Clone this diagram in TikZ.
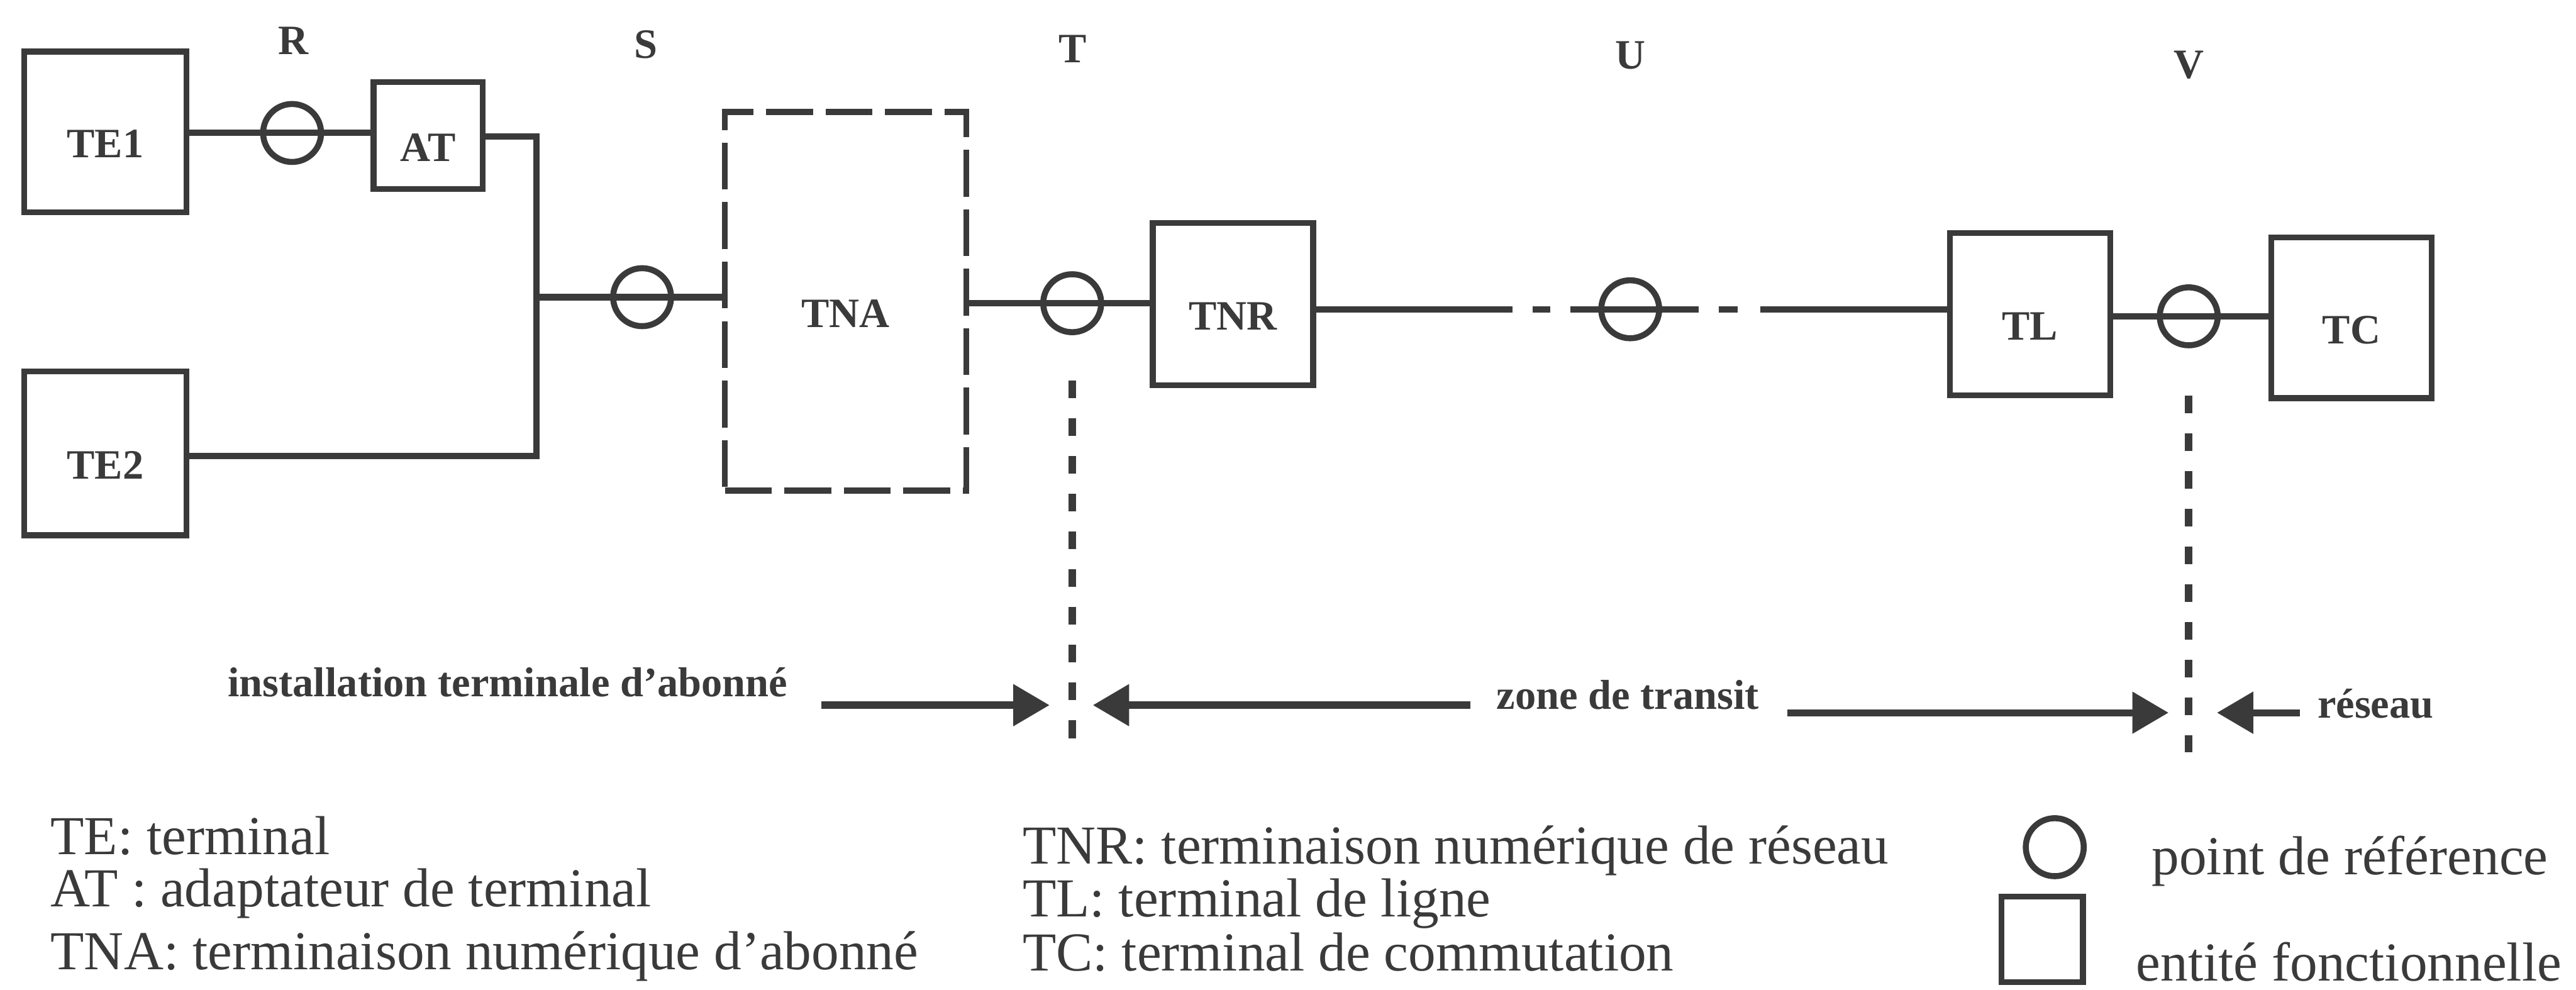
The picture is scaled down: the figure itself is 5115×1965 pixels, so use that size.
\documentclass[tikz,border=0pt]{standalone}
\usepackage{fontspec}
\setmainfont{Liberation Serif}
\usetikzlibrary{arrows.meta,calc}
\definecolor{ink}{RGB}{58,58,58}
\begin{document}
\begin{tikzpicture}[x=0.01cm,y=-0.01cm,
  every node/.style={text=ink},
  lblfont/.style={font=\fontsize{23.6}{26}\selectfont\bfseries},
  legfont/.style={font=\fontsize{31}{33}\selectfont},
  box/.style={draw=ink, line width=3.4pt, inner sep=0pt},
  boxlbl/.style={label={[lblfont, text=ink, yshift=-0.24cm]center:#1}},
  dbox/.style={box, dash pattern=on 0.93cm off 0.25cm},
  refpt/.style={draw=ink, circle, line width=3.4pt, minimum size=1.15cm, inner sep=0pt},
  wire/.style={draw=ink, line width=3.6pt},
  vdots/.style={draw=ink, line width=4.2pt, dash pattern=on 0.35cm off 0.4cm},
  arr/.style={draw=ink, line width=4pt, -{Triangle[length=0.72cm,width=0.8cm]}},
  letter/.style={lblfont, anchor=base, inner sep=0pt},
  zone/.style={lblfont, anchor=base, inner sep=0pt},
  legend/.style={legfont, anchor=base west, inner sep=0pt}
]
\fill[white] (0,0) rectangle (5115,1965);
\useasboundingbox (0,0) rectangle (5115,1965);

% reference point letters
\node[letter] (lR) at (582,108) {R};
\node[letter] (lS) at (1282,115) {S};
\node[letter] (lT) at (2130,124) {T};
\node[letter] (lU) at (3237,137) {U};
\node[letter] (lV) at (4346,155) {V};

% functional entities
\node[box, minimum width=3.22cm, minimum height=3.19cm, boxlbl=TE1] (TE1) at (209,262) {};
\node[box, minimum width=2.17cm, minimum height=2.12cm, boxlbl=AT] (AT) at (850,269) {};
\node[box, minimum width=3.22cm, minimum height=3.25cm, boxlbl=TE2] (TE2) at (209,900) {};
\node[dbox, minimum width=4.79cm, minimum height=7.51cm, boxlbl=TNA] (TNA) at (1679,598) {};
\node[box, minimum width=3.18cm, minimum height=3.22cm, boxlbl=TNR] (TNR) at (2448,604) {};
\node[box, minimum width=3.18cm, minimum height=3.22cm, boxlbl=TL] (TL) at (4031,624) {};
\node[box, minimum width=3.18cm, minimum height=3.19cm, boxlbl=TC] (TC) at (4669,631) {};

% reference points
\node[refpt] (R) at (580,264) {};
\node[refpt] (S) at (1275,590) {};
\node[refpt] (Tp) at (2129,602) {};
\node[refpt] (Up) at (3237,614) {};
\node[refpt] (Vp) at (4346,628) {};

% junction coordinates
\coordinate (J1) at (1065,271);
\coordinate (J2) at (1065,905);

% connectors
\draw[wire] (TE1.east |- R) -- (AT.west |- R);
\draw[wire] (AT.east |- J1) -- (J1) -- (J2) -- (TE2.east |- J2);
\draw[wire] (J1 |- S) -- (TNA.west |- S);
\draw[wire] (TNA.east |- Tp) -- (TNR.west |- Tp);
\draw[wire] (TNR.east |- Up) -- ($(Up)+(-234,0)$);
\draw[wire] ($(Up)+(-194,0)$) -- ($(Up)+(-159,0)$);
\draw[wire] ($(Up)+(-119,0)$) -- ($(Up)+(136,0)$);
\draw[wire] ($(Up)+(176,0)$) -- ($(Up)+(213,0)$);
\draw[wire] ($(Up)+(258,0)$) -- (TL.west |- Up);
\draw[wire] (TL.east |- Vp) -- (TC.west |- Vp);

% boundaries
\coordinate (Ttop) at (2129,755);
\coordinate (Tbot) at (2129,1473);
\coordinate (Vtop) at (4346,785);
\coordinate (Vbot) at (4346,1493);
\draw[vdots] (Ttop) -- (Tbot);
\draw[vdots] (Vtop) -- (Vbot);

% zones
\node[zone] (inst) at (1008,1383) {installation terminale d’abonné};
\node[zone] (transit) at (3232,1408) {zone de transit};
\node[zone] (reseau) at (4717,1425) {réseau};
\coordinate (a1s) at (1631,1400);
\coordinate (a1e) at (2084,1400);
\coordinate (a2s) at (2919,1400);
\coordinate (a2e) at (2170,1400);
\coordinate (a3s) at (3549,1415);
\coordinate (a3e) at (4306,1415);
\coordinate (a4s) at (4567,1415);
\coordinate (a4e) at (4402,1415);
\draw[arr] (a1s) -- (a1e);
\draw[arr] (a2s) -- (a2e);
\draw[arr] (a3s) -- (a3e);
\draw[arr] (a4s) -- (a4e);

% legend
\node[legend] (gTE) at (100,1697) {TE: terminal};
\node[legend] (gAT) at (100,1800) {AT : adaptateur de terminal};
\node[legend] (gTNA) at (100,1925) {TNA: terminaison numérique d’abonné};
\node[legend] (gTNR) at (2030,1715) {TNR: terminaison numérique de réseau};
\node[legend] (gTL) at (2030,1820) {TL: terminal de ligne};
\node[legend] (gTC) at (2030,1927) {TC: terminal de commutation};
\node[refpt] (gcirc) at (4080,1682) {};
\node[box, minimum width=1.62cm, minimum height=1.70cm] (gsq) at (4055,1865) {};
\node[legend] (gpt) at (4272,1737) {point de référence};
\node[legend] (gent) at (4241,1947) {entité fonctionnelle};
\end{tikzpicture}
\end{document}
